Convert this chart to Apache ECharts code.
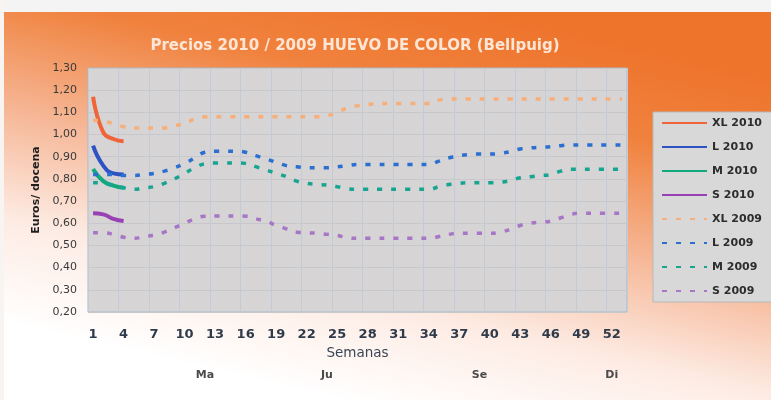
<!DOCTYPE html>
<html>
<head>
<meta charset="utf-8">
<script src="https://cdn.jsdelivr.net/npm/echarts@6/dist/echarts.min.js"></script>
<style>
html,body{margin:0;padding:0;background:#fff;}
#chart{width:771px;height:400px;}
</style>
</head>
<body>
<div id="chart"></div>
<script>
// ---- data ----
var weeks = [];
for (var w = 1; w <= 53; w++) weeks.push(String(w));

var monthWeeks = ['12', '24', '39', '52'];
var monthNames = ['Ma', 'Ju', 'Se', 'Di'];

var seriesNames = ['XL 2010', 'L 2010', 'M 2010', 'S 2010', 'XL 2009', 'L 2009', 'M 2009', 'S 2009'];

var xl2010 = [1.17, 1.01, 0.98, 0.97];
var l2010  = [0.95, 0.86, 0.825, 0.82];
var m2010  = [0.845, 0.79, 0.77, 0.76];
var s2010  = [0.645, 0.64, 0.62, 0.61];

var xl2009 = [1.065, 1.06, 1.05, 1.035, 1.03, 1.03, 1.03, 1.03, 1.04, 1.05,
              1.07, 1.08, 1.08, 1.08, 1.08, 1.08, 1.08, 1.08, 1.08, 1.08,
              1.08, 1.08, 1.08, 1.085, 1.10, 1.12, 1.13, 1.135, 1.14, 1.14,
              1.14, 1.14, 1.14, 1.14, 1.155, 1.16, 1.16, 1.16, 1.16, 1.16,
              1.16, 1.16, 1.16, 1.16, 1.16, 1.16, 1.16, 1.16, 1.16, 1.16,
              1.16, 1.16, 1.16];
var l2009  = [0.82, 0.82, 0.82, 0.815, 0.815, 0.82, 0.825, 0.835, 0.85, 0.87,
              0.895, 0.92, 0.925, 0.925, 0.925, 0.92, 0.905, 0.89, 0.875, 0.86,
              0.855, 0.85, 0.85, 0.85, 0.855, 0.86, 0.865, 0.865, 0.865, 0.865,
              0.865, 0.865, 0.865, 0.865, 0.88, 0.895, 0.905, 0.91, 0.912, 0.912,
              0.915, 0.923, 0.935, 0.94, 0.943, 0.945, 0.95, 0.953, 0.953, 0.953,
              0.953, 0.953, 0.953];
var m2009  = [0.783, 0.78, 0.77, 0.76, 0.753, 0.76, 0.765, 0.78, 0.80, 0.825,
              0.85, 0.868, 0.872, 0.872, 0.872, 0.87, 0.855, 0.84, 0.825, 0.81,
              0.79, 0.78, 0.775, 0.772, 0.765, 0.755, 0.753, 0.753, 0.753, 0.753,
              0.753, 0.753, 0.753, 0.753, 0.765, 0.775, 0.78, 0.783, 0.783, 0.783,
              0.785, 0.792, 0.805, 0.81, 0.815, 0.82, 0.835, 0.843, 0.843, 0.843,
              0.843, 0.843, 0.843];
var s2009  = [0.557, 0.557, 0.55, 0.537, 0.532, 0.54, 0.547, 0.56, 0.58, 0.60,
              0.62, 0.632, 0.633, 0.633, 0.633, 0.632, 0.62, 0.61, 0.59, 0.575,
              0.56, 0.557, 0.555, 0.55, 0.545, 0.535, 0.532, 0.532, 0.532, 0.532,
              0.532, 0.532, 0.532, 0.532, 0.54, 0.55, 0.555, 0.555, 0.555, 0.555,
              0.56, 0.572, 0.59, 0.60, 0.605, 0.61, 0.625, 0.64, 0.645, 0.645,
              0.645, 0.645, 0.645];

var allData = [xl2010, l2010, m2010, s2010, xl2009, l2009, m2009, s2009];
var colors = ['#f0643a', '#2c52c4', '#13a97f', '#9840b4', '#f7ae78', '#2b6fd0', '#17a591', '#a776c6'];

var FONT = 'DejaVu Sans';

var series = seriesNames.map(function (name, i) {
  var dashed = i >= 4;
  return {
    name: name,
    type: 'line',
    data: allData[i],
    smooth: true,
    symbol: 'none',
    lineStyle: {
      color: colors[i],
      width: dashed ? 3.5 : 4,
      type: dashed ? [5, 9] : 'solid',
      cap: 'butt'
    },
    itemStyle: { color: colors[i] }
  };
});

var chart = echarts.init(document.getElementById('chart'), null, { renderer: 'canvas' });
chart.setOption({
  animation: false,
  backgroundColor: new echarts.graphic.LinearGradient(0.56, 0, 0.44, 1, [
    { offset: 0, color: '#ee742c' },
    { offset: 0.22, color: '#f0823e' },
    { offset: 0.5, color: '#f6b898' },
    { offset: 0.75, color: '#fdebe3' },
    { offset: 1, color: '#ffffff' }
  ]),
  graphic: [
    { type: 'rect', left: 0, top: 0, shape: { width: 771, height: 12 }, style: { fill: '#f4f4f4' }, z: -1 },
    { type: 'rect', left: 0, top: 0, shape: { width: 4, height: 400 }, style: { fill: '#f8f4f2' }, z: -1 }
  ],
  title: {
    text: 'Precios 2010 / 2009 HUEVO DE COLOR (Bellpuig)',
    left: 350,
    textAlign: 'center',
    top: 34,
    textStyle: { color: '#fde6d6', fontFamily: FONT, fontWeight: 'bold', fontSize: 15 }
  },
  legend: {
    orient: 'vertical',
    left: 653,
    top: 112,
    padding: [5, 30, 5, 8],
    itemWidth: 45,
    itemHeight: 12,
    itemGap: 12,
    backgroundColor: '#d9d8d8',
    borderColor: '#b8b8b8',
    borderWidth: 1,
    data: seriesNames,
    itemStyle: { opacity: 0 },
    textStyle: { color: '#2d2d2d', fontFamily: FONT, fontWeight: 'bold', fontSize: 11, lineHeight: 12 }
  },
  grid: {
    left: 88, right: 144, top: 68, bottom: 88,
    show: true,
    backgroundColor: '#d6d4d4',
    borderColor: '#a8b9c9',
    borderWidth: 1
  },
  xAxis: [{
    type: 'category',
    data: weeks,
    boundaryGap: true,
    name: 'Semanas',
    nameLocation: 'middle',
    nameGap: 34,
    nameTextStyle: { color: '#3a4656', fontFamily: FONT, fontSize: 13.5 },
    axisLine: { show: false },
    axisTick: { show: false, interval: 2 },
    axisLabel: { interval: 2, margin: 16, color: '#2f3b4a', fontFamily: FONT, fontWeight: 'bold', fontSize: 13 },
    splitLine: { show: true, interval: 2, lineStyle: { color: '#c3ccd6', width: 1 } }
  }, {
    type: 'category',
    data: weeks,
    position: 'bottom',
    offset: 58,
    axisLine: { show: false },
    axisTick: { show: false },
    splitLine: { show: false },
    axisLabel: {
      interval: 0, margin: 0, color: '#4a4a4a', fontFamily: FONT, fontWeight: 'bold', fontSize: 11,
      formatter: function (v) { var k = monthWeeks.indexOf(v); return k >= 0 ? monthNames[k] : ''; }
    }
  }],
  yAxis: {
    type: 'value',
    min: 0.2, max: 1.3, interval: 0.1,
    name: 'Euros/ docena',
    nameLocation: 'middle',
    nameGap: 44,
    nameTextStyle: { color: '#1e1e1e', fontFamily: FONT, fontWeight: 'bold', fontSize: 11 },
    axisLine: { show: false },
    axisTick: { show: false },
    axisLabel: {
      margin: 11, color: '#3a3a3a', fontFamily: FONT, fontSize: 11,
      formatter: function (v) { return v.toFixed(2).replace('.', ','); }
    },
    splitLine: { lineStyle: { color: '#c6c8cc', width: 1 } }
  },
  series: series
});
</script>
</body>
</html>
